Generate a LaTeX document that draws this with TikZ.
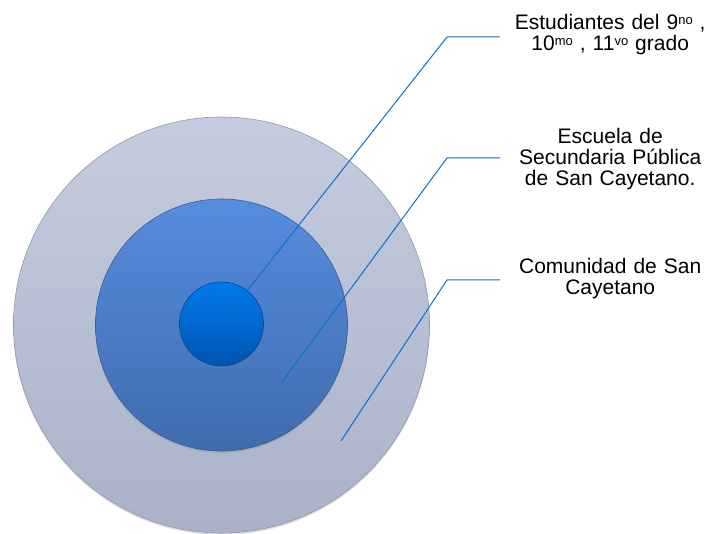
\documentclass[tikz,border=0pt]{standalone}
\usepackage{fontspec}
\setmainfont{Liberation Sans}
\usetikzlibrary{positioning,shadows}

\definecolor{outertop}{RGB}{197,204,223}
\definecolor{outerbot}{RGB}{170,178,200}
\definecolor{midtop}{RGB}{86,141,222}
\definecolor{midbot}{RGB}{64,108,174}
\definecolor{intop}{RGB}{0,122,236}
\definecolor{inbot}{RGB}{0,84,178}
\definecolor{leadblue}{RGB}{10,112,205}

\newcommand{\ordsup}[1]{\raisebox{0.5ex}{\fontsize{13}{13}\selectfont #1}}

\begin{document}
\begin{tikzpicture}
        [x=1pt,y=-1pt,
        ring/.style={circle, inner sep=0pt, line width=0.6pt,
            drop shadow={opacity=0.25, shadow xshift=0pt, shadow yshift=-2pt}},
        leader/.style={draw=leadblue, line width=1pt},
        label/.style={text width=200pt, inner xsep=10pt, inner ysep=0pt, align=center,
            font=\fontsize{21}{21}\selectfont}]
        \useasboundingbox (0,0) rectangle (706,534);
        % rings
        \node[ring, minimum size=416pt, draw=outerbot!85!black,
            top color=outertop, bottom color=outerbot] (outer) at (221.5,325) {};
        \node[ring, minimum size=252pt, draw=midbot!85!black,
            top color=midtop, bottom color=midbot] (middle) at (221.5,325) {};
        \node[ring, minimum size=84pt, draw=inbot!85!black,
            top color=intop, bottom color=inbot] (inner) at (221.5,324) {};
        % anchors of the leaders
        \coordinate (in1) at (221,324);
        \coordinate (in2) at (282,382);
        \coordinate (in3) at (341,441);
        \coordinate (k1) at (447,37);
        \coordinate (k2) at (447,158);
        \coordinate (k3) at (447,280);
        % labels
        \node[label, anchor=west] (t1) at (500,35)
            {Estudiantes del 9\ordsup{no} ,\\ 10\ordsup{mo} , 11\ordsup{vo} grado};
        \node[label, anchor=west] (t2) at (500,159)
            {Escuela de\\ Secundaria Pública\\ de San Cayetano.};
        \node[label, anchor=west] (t3) at (500,279)
            {Comunidad de San\\ Cayetano};
        % leaders
        \draw[leader] (in1) -- (k1) -- (k1 -| t1.west);
        \draw[leader] (in2) -- (k2) -- (k2 -| t2.west);
        \draw[leader] (in3) -- (k3) -- (k3 -| t3.west);
    \end{tikzpicture}
\end{document}
